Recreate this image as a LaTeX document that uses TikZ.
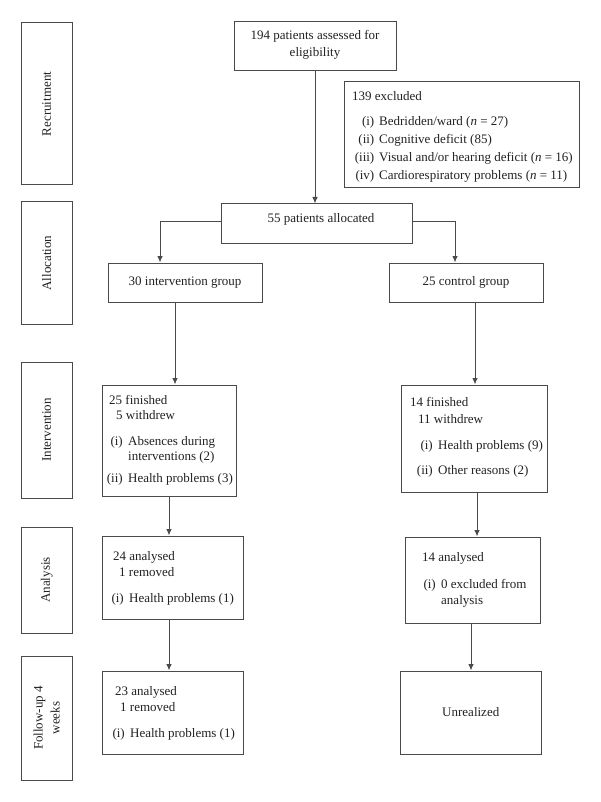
\documentclass[tikz,border=0pt]{standalone}
\usepackage{fontspec}
\setmainfont{Liberation Serif}
\usetikzlibrary{fit,arrows.meta}
\definecolor{ln}{HTML}{4A4A4A}
\definecolor{tx}{HTML}{222222}
\begin{document}
\begin{tikzpicture}[x=1pt,y=-1pt,
  frame/.style={draw=ln, line width=1pt, inner sep=0pt},
  txt/.style={text=tx, inner sep=0pt, font=\fontsize{13}{17}\selectfont},
  lt/.style={txt, anchor=base west},
  lab/.style={txt, anchor=base east},
  ctr/.style={txt, align=center},
  side/.style={txt, align=center, rotate=90},
  arr/.style={draw=ln, line width=1pt, -{Latex[length=6.5pt,width=5.5pt]}}]
\useasboundingbox (0,0) rectangle (600,802);
\fill[white] (0,0) rectangle (600,802);

% side label boxes
\node[frame, fit={(21.5,23) (72,185)}] (sRec) {};
\node[frame, fit={(21.5,202) (72,324)}] (sAll) {};
\node[frame, fit={(21.5,362) (72,498)}] (sInt) {};
\node[frame, fit={(21.5,527) (72,633)}] (sAna) {};
\node[frame, fit={(21.5,656) (72,780)}] (sFol) {};
\node[side] (tRec) at (sRec.center) {Recruitment};
\node[side] (tAll) at (sAll.center) {Allocation};
\node[side] (tInt) at (sInt.center) {Intervention};
\node[side] (tAna) at (sAna.center) {Analysis};
\node[side] (tFol) at (sFol.center) {Follow-up 4\\weeks};

% main boxes
\node[frame, fit={(234,22) (396,71)}] (top) {};
\node[frame, fit={(344,82) (579,188)}] (exc) {};
\node[frame, fit={(221,204) (412,243)}] (alloc) {};
\node[frame, fit={(108,263) (262,302)}] (ig) {};
\node[frame, fit={(389,263) (543,302)}] (cg) {};
\node[frame, fit={(102,385) (236.5,496)}] (fin1) {};
\node[frame, fit={(401,385) (547,492)}] (fin2) {};
\node[frame, fit={(102,536) (243,619)}] (an1) {};
\node[frame, fit={(405,537) (540,623)}] (an2) {};
\node[frame, fit={(102,671) (243,754)}] (fu1) {};
\node[frame, fit={(400,671) (541.5,754)}] (fu2) {};

% texts
\node[ctr] (tTop) at (315,45) {194 patients assessed for\\eligibility};
\node[lt] (e0) at (352,100.5) {139 excluded};
\node[lab] (e1l) at (374.5,125.5) {(i)};
\node[lt] (e1) at (379,125.5) {Bedridden/ward (\textit{n} = 27)};
\node[lab] (e2l) at (374.5,143.5) {(ii)};
\node[lt] (e2) at (379,143.5) {Cognitive deficit (85)};
\node[lab] (e3l) at (374.5,161.5) {(iii)};
\node[lt] (e3) at (379,161.5) {Visual and/or hearing deficit (\textit{n} = 16)};
\node[lab] (e4l) at (374.5,179.5) {(iv)};
\node[lt] (e4) at (379,179.5) {Cardiorespiratory problems (\textit{n} = 11)};

\node[ctr] (tAlloc) at (321,219) {55 patients allocated};
\node[ctr] (tIg) at (ig.center) {30 intervention group};
\node[ctr] (tCg) at (cg.center) {25 control group};

\node[lt] (a1) at (109,404.5) {25 finished};
\node[lt] (a2) at (116,419.5) {5 withdrew};
\node[lab] (a3l) at (123,445.5) {(i)};
\node[lt] (a3) at (128,445.5) {Absences during};
\node[lt] (a4) at (128,460.5) {interventions (2)};
\node[lab] (a5l) at (123,482.5) {(ii)};
\node[lt] (a5) at (128,482.5) {Health problems (3)};

\node[lt] (b1) at (410,406.5) {14 finished};
\node[lt] (b2) at (418,423.5) {11 withdrew};
\node[lab] (b3l) at (433,449.5) {(i)};
\node[lt] (b3) at (438,449.5) {Health problems (9)};
\node[lab] (b4l) at (433,474.5) {(ii)};
\node[lt] (b4) at (438,474.5) {Other reasons (2)};

\node[lt] (c1) at (113,560.5) {24 analysed};
\node[lt] (c2) at (119,576.5) {1 removed};
\node[lab] (c3l) at (124,602.5) {(i)};
\node[lt] (c3) at (129,602.5) {Health problems (1)};

\node[lt] (d1) at (422,561.5) {14 analysed};
\node[lab] (d2l) at (436,588.5) {(i)};
\node[lt] (d2) at (441,588.5) {0 excluded from};
\node[lt] (d3) at (441,604.5) {analysis};

\node[lt] (f1) at (115,695.5) {23 analysed};
\node[lt] (f2) at (120,711.5) {1 removed};
\node[lab] (f3l) at (125,737.5) {(i)};
\node[lt] (f3) at (130,737.5) {Health problems (1)};

\node[ctr] (tUn) at (fu2.center) {Unrealized};

% connector guide coordinates
\coordinate (xTop) at (315,0);
\coordinate (yA) at (0,222);
\coordinate (xL) at (160,0);
\coordinate (xR) at (455,0);
\coordinate (xL1) at (175,0);
\coordinate (xR1) at (475,0);
\coordinate (xL2) at (169,0);
\coordinate (xR2) at (477,0);
\coordinate (xR3) at (471,0);

\draw[arr] (top.south -| xTop) -- (alloc.north -| xTop);
\draw[arr] (alloc.west |- yA) -| (ig.north -| xL);
\draw[arr] (alloc.east |- yA) -| (cg.north -| xR);
\draw[arr] (ig.south -| xL1) -- (fin1.north -| xL1);
\draw[arr] (cg.south -| xR1) -- (fin2.north -| xR1);
\draw[arr] (fin1.south -| xL2) -- (an1.north -| xL2);
\draw[arr] (fin2.south -| xR2) -- (an2.north -| xR2);
\draw[arr] (an1.south -| xL2) -- (fu1.north -| xL2);
\draw[arr] (an2.south -| xR3) -- (fu2.north -| xR3);
\end{tikzpicture}
\end{document}
